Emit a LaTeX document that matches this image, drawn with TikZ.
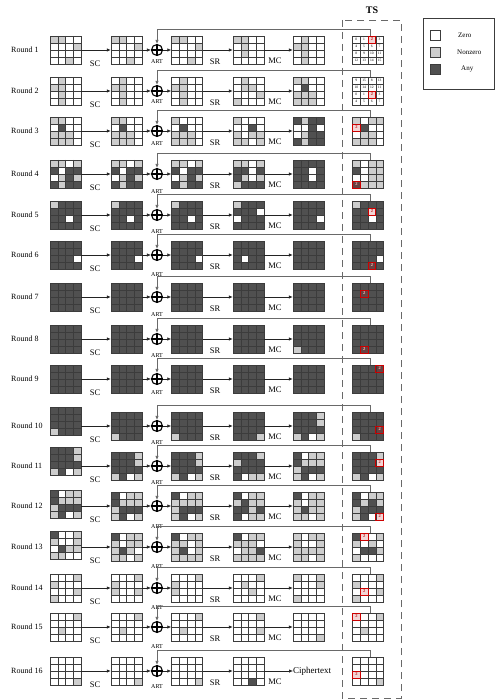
\documentclass[tikz,border=0pt]{standalone}
\usepackage{fontspec}
\setmainfont{Liberation Serif}
\usetikzlibrary{arrows.meta,calc,positioning}

\definecolor{c0}{RGB}{255,255,255}
\definecolor{c1}{RGB}{205,205,205}
\definecolor{c2}{RGB}{80,80,80}
\definecolor{c3}{RGB}{242,212,212}
\definecolor{c4}{RGB}{104,66,66}
\definecolor{t3}{RGB}{200,30,30}
\definecolor{t4}{RGB}{255,190,190}
\definecolor{gline}{RGB}{60,60,60}
\definecolor{flowc}{RGB}{35,35,35}
\definecolor{feedc}{RGB}{105,105,105}

\tikzset{
  gridbox/.style={draw=gline,line width=.5pt,minimum width=31pt,minimum height=28pt,inner sep=0pt},
  flowarrow/.style={line width=.6pt,draw=flowc,-{Latex[length=4pt,width=3.4pt]}},
  feedline/.style={line width=.7pt,draw=feedc,-{Latex[length=4pt,width=3.4pt]}},
  xorc/.style={circle,draw,line width=1.1pt,minimum size=11pt,inner sep=0pt},
  oplabel/.style={font=\fontsize{8.5}{9}\selectfont,inner sep=0pt},
  artlabel/.style={font=\fontsize{6}{7}\selectfont,inner sep=0pt},
  roundlabel/.style={font=\fontsize{8}{9}\selectfont,anchor=west,inner sep=0pt},
  twomark/.style={draw=red!80!black,line width=.6pt,minimum width=7.75pt,minimum height=7pt,inner sep=0pt,font=\fontsize{4.5}{5}\selectfont\bfseries},
  numcell/.style={inner sep=0pt,font=\fontsize{3.6}{4}\selectfont},
  keybox/.style={draw=gline,line width=.7pt,minimum size=10pt,inner sep=0pt},
  legendtext/.style={font=\fontsize{7}{8}\selectfont,anchor=west,inner sep=0pt},
}

% one cell of a 4x4 state: value, column, row
\newcommand{\fillcell}[3]{\fill[c#1] (\gx+#2*7.75,\gy+#3*7) rectangle ++(7.75,7);}
\newcommand{\markcell}[3]{\ifnum#1>2 \node[twomark,text=t#1] (\gname-two) at (\gx+#2*7.75+3.875,\gy+#3*7+3.5) {2};\fi}
\def\cellrow#1#2#3#4\relax{\cellact{#1}{0}{\rowno}\cellact{#2}{1}{\rowno}\cellact{#3}{2}{\rowno}\cellact{#4}{3}{\rowno}}

% state grid: name, x, y, rows
\newcommand{\stategrid}[4]{%
  \def\gname{#1}\pgfmathsetmacro\gx{#2-15.5}\pgfmathsetmacro\gy{#3-14}%
  \let\cellact\fillcell
  \foreach \rowstr [count=\rowno from 0] in {#4} {\expandafter\cellrow\rowstr\relax}
  \node[gridbox] (#1) at (#2,#3) {};
  \foreach \i in {1,2,3} {
    \draw[gline,line width=.5pt] (\gx+\i*7.75,\gy) -- ++(0,28);
    \draw[gline,line width=.5pt] (\gx,\gy+\i*7) -- ++(31,0);
  }
  \let\cellact\markcell
  \foreach \rowstr [count=\rowno from 0] in {#4} {\expandafter\cellrow\rowstr\relax}
}

% [G1 shift] round, y, ART offset, input, after SC, after ART, after SR
\newcommand{\cipherround}[8][0]{%
  \pgfmathsetmacro\ya{#3+#1}
  \node[roundlabel] (r#2) at (11,#3) {Round #2};
  \stategrid{in#2}{65.5}{\ya}{#5}
  \stategrid{sb#2}{126.5}{#3}{#6}
  \node[xorc] (x#2) at (157,#3) {};
  \draw[line width=1.1pt] (x#2.north) -- (x#2.south) (x#2.west) -- (x#2.east);
  \stategrid{ak#2}{187}{#3}{#7}
  \stategrid{sr#2}{248.5}{#3}{#8}
  \draw[flowarrow] (in#2.east |- sb#2.west) -- (sb#2.west);
  \draw[flowarrow] (sb#2.east) -- (x#2.west);
  \draw[flowarrow] (x#2.east) -- (ak#2.west);
  \draw[flowarrow] (ak#2.east) -- (sr#2.west);
  \node[oplabel] (lsc#2) at (95,#3+14) {SC};
  \node[artlabel] (lart#2) at (157,#3+#4) {ART};
  \node[oplabel] (lsr#2) at (215,#3+12) {SR};
  \node[oplabel] (lmc#2) at (275,#3+11) {MC};
}

% MC output: round, y, rows
\newcommand{\mcstep}[3]{%
  \stategrid{mc#1}{308.5}{#2}{#3}
  \draw[flowarrow] (sr#1.east) -- (mc#1.west);
}

% tweakey state and its line to the xor: round, y, rows
\newcommand{\keystate}[3]{%
  \stategrid{ts#1}{368}{#2}{#3}
  \coordinate (f#1) at (370,#2-21);
  \draw[feedline] (ts#1.north -| f#1) -- (f#1) -| (x#1.north);
}

% numbered tweakey state: round, y, rows, numbers
\newcommand{\numstate}[4]{%
  \keystate{#1}{#2}{#3}
  \foreach \numv [count=\i from 0] in {#4} {
    \pgfmathsetmacro\nx{352.5+mod(\i,4)*7.75+3.875}
    \pgfmathsetmacro\ny{#2-14+floor(\i/4)*7+3.5}
    \ifnum\numv=2\else\node[numcell] (n#1-\i) at (\nx,\ny) {\numv};\fi
  }
}

\begin{document}
\begin{tikzpicture}[x=1pt,y=-1pt]
\useasboundingbox (0,0) rectangle (496,700);

% TS column and legend
\node[font=\fontsize{10}{11}\selectfont\bfseries] (tslabel) at (372,10) {TS};
\draw[feedc,line width=.9pt,dash pattern=on 7pt off 5pt] (342,20) rectangle (401,698);
\node[draw=gline,line width=.6pt,minimum width=71pt,minimum height=71pt,inner sep=0pt] (legend) at (458.5,53.5) {};
\node[keybox,fill=c0] (kzero) at (435,35) {};
\node[keybox,fill=c1] (knonzero) at (435,52) {};
\node[keybox,fill=c2] (kany) at (435,69) {};
\node[legendtext] (tzero) at (458,35) {Zero};
\node[legendtext] (tnonzero) at (457,52) {Nonzero};
\node[legendtext] (tany) at (461,69) {Any};

\cipherround{1}{50}{12}{1100,0001,0000,0010}{1100,0001,0000,0010}{1100,0001,0000,0010}{1100,0100,0100,0000}
\mcstep{1}{50}{0100,1100,0100,0100}
\numstate{1}{50}{0030,0000,0000,0000}{0,1,2,3,4,5,6,7,8,9,10,11,12,13,14,15}

\cipherround{2}{91}{11}{0100,1100,0100,0100}{0100,1100,0100,0100}{0100,1100,0100,0100}{0100,0110,0001,1000}
\mcstep{2}{91}{1100,0200,1110,1110}
\numstate{2}{91}{0000,0000,0030,0000}{9,15,8,13,10,14,12,11,0,1,2,3,4,5,6,7}

\cipherround{3}{131}{13}{1100,0200,1110,1110}{1100,0200,1110,1110}{1000,0200,1110,1110}{1000,0020,1011,1101}
\mcstep{3}{131}{2122,0020,0122,2122}
\keystate{3}{131}{1011,3200,0110,1110}

\cipherround{4}{174}{18}{1101,2022,0121,2122}{1101,2022,0121,2122}{1101,2022,0121,2122}{1101,2202,2101,1222}
\mcstep{4}{174}{2222,2202,2202,2222}
\keystate{4}{174}{1011,2011,0011,4111}

\cipherround{5}{215}{17}{1222,2222,2202,2222}{1222,2222,2202,2222}{1222,2222,2202,2222}{1222,2220,0222,2222}
\mcstep{5}{215}{2222,2222,2220,2222}
\keystate{5}{215}{1222,2232,2202,2222}

\cipherround{6}{255}{20}{2222,2222,2220,2222}{2222,2222,2220,2222}{2222,2222,2220,2222}{2222,2222,2022,2222}
\mcstep{6}{255}{2222,2222,2222,2222}
\keystate{6}{255}{2222,2222,2220,2242}

\cipherround{7}{297}{18}{2222,2222,2222,2222}{2222,2222,2222,2222}{2222,2222,2222,2222}{2222,2222,2222,2222}
\mcstep{7}{297}{2222,2222,2222,2222}
\keystate{7}{297}{2222,2422,2222,2222}

\cipherround{8}{339}{17}{2222,2222,2222,2222}{2222,2222,2222,2222}{2222,2222,2222,2222}{2222,2222,2222,2222}
\mcstep{8}{339}{2222,2222,2222,1222}
\keystate{8}{339}{2222,2222,2222,2422}

\cipherround{9}{379}{14}{2222,2222,2222,2222}{2222,2222,2222,2222}{2222,2222,2222,2222}{2222,2222,2222,2222}
\mcstep{9}{379}{2222,2222,2222,2222}
\keystate{9}{379}{2224,2222,2222,2222}

\cipherround[-5]{10}{426}{17}{2222,2222,2222,1222}{2222,2222,2222,1222}{2222,2222,2222,1222}{2222,2222,2222,2221}
\mcstep{10}{426}{2221,2221,2222,1201}
\keystate{10}{426}{2222,2222,2224,1222}

\cipherround[-5]{11}{466}{17}{2221,2221,2222,1201}{2221,2221,2222,1201}{2221,2221,2222,1201}{2221,1222,2222,2011}
\mcstep{11}{466}{2011,2111,1222,1201}
\keystate{11}{466}{2221,2223,2222,1201}

\cipherround[-2]{12}{506}{21}{2011,2111,1222,1201}{2011,2111,1222,1201}{2011,1111,1222,1201}{2011,1211,2212,2011}
\mcstep{12}{506}{2011,1011,1211,1101}
\keystate{12}{506}{2011,2121,1222,1203}

\cipherround[-2]{13}{547}{20}{2001,1001,0211,1100}{2011,1011,1210,1101}{2011,1101,1201,1111}{2011,1110,0112,1111}
\mcstep{13}{547}{1011,1001,1111,1101}
\keystate{13}{547}{2301,1010,0221,1000}

\cipherround{14}{588}{20}{0001,1000,0001,1000}{0001,1000,1001,0000}{0001,1000,1000,0000}{0001,0100,0010,0000}
\mcstep{14}{588}{1001,0001,0000,1000}
\keystate{14}{588}{0001,1000,0301,1000}

\cipherround{15}{627}{20}{0001,0000,0100,0000}{0001,0000,0100,0000}{0001,0000,0100,0000}{0001,0000,0001,0000}
\mcstep{15}{627}{0000,0000,0000,0001}
\keystate{15}{627}{3001,0000,0100,0000}

\cipherround{16}{671}{16}{0000,0000,0000,0001}{0000,0000,0000,0001}{0000,0000,0000,0001}{0000,0000,0000,0020}
\node[oplabel,anchor=west,font=\fontsize{9}{10}\selectfont] (ct) at (293,671) {Ciphertext};
\draw[flowarrow] (sr16.east) -- (sr16.east -| ct.west);
\keystate{16}{671}{0000,0000,3000,0001}

\end{tikzpicture}
\end{document}
